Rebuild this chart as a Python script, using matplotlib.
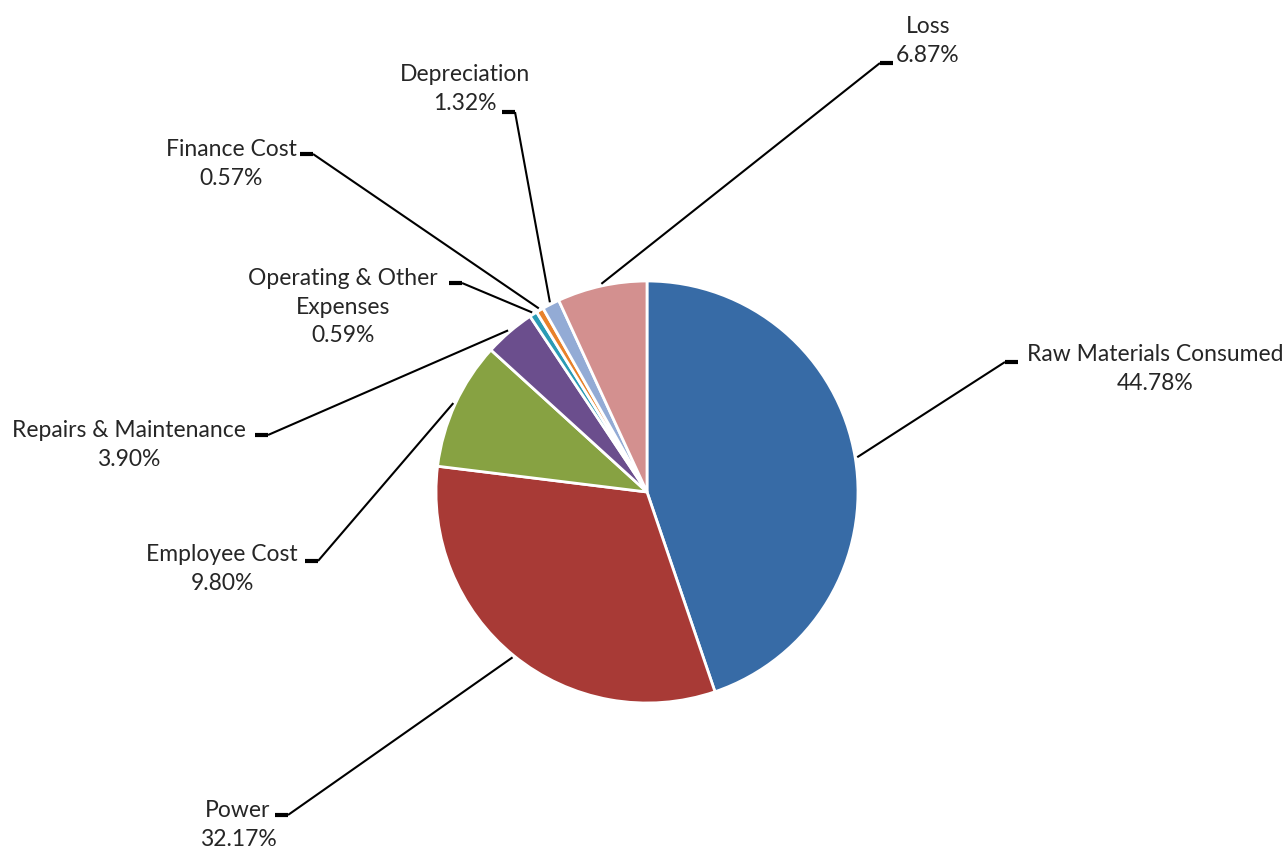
import numpy as np
import matplotlib.pyplot as plt

plt.rcParams['font.family'] = ['Lato', 'DejaVu Sans']

# Data
categories = ['Raw Materials Consumed', 'Power', 'Employee Cost', 'Repairs & Maintenance',
              'Operating & Other\nExpenses', 'Finance Cost', 'Depreciation', 'Loss']
shares = [44.78, 32.17, 9.80, 3.90, 0.59, 0.57, 1.32, 6.87]
colors = ['#376BA6', '#A83A36', '#87A242', '#6B4E8D', '#2A9BB5', '#E8812A', '#93ABD5', '#D3908F']

# Layout (pixel positions of label centres and leader elbows)
W, H = 1285, 848
CX, CY, R = 647, 492, 211
label_pos = [(1155, 369), (238, 825), (222, 569), (129, 445),
             (343, 307), (231, 164), (465, 89), (928, 41)]
elbow = [(1005, 362), (288, 815), (318, 561), (268, 435),
         (462, 283), (313, 154), (515, 112), (880, 63)]
side = [1, -1, -1, -1, -1, -1, -1, 1]  # text to the right (1) or left (-1) of elbow


def px(x, y):
    return (x - CX) / R, (CY - y) / R


fig = plt.figure(figsize=(W / 100, H / 100), dpi=100)
ax = fig.add_axes([0, 0, 1, 1])

wedges, _ = ax.pie(shares, colors=colors, startangle=90, counterclock=False, radius=1,
                   wedgeprops=dict(edgecolor='white', linewidth=2))
ax.set_xlim(-CX / R, (W - CX) / R)
ax.set_ylim(-(H - CY) / R, CY / R)
ax.set_aspect('equal')
ax.axis('off')

for i, w in enumerate(wedges):
    ang = np.deg2rad((w.theta1 + w.theta2) / 2)
    x0, y0 = 1.01 * np.cos(ang), 1.01 * np.sin(ang)
    ex, ey = px(*elbow[i])
    hx = ex + side[i] * 13 / R
    ax.plot([x0, ex], [y0, ey], color='black', lw=1.5, solid_capstyle='butt')
    ax.plot([ex, hx], [ey, ey], color='black', lw=3, solid_capstyle='butt')
    lx, ly = px(*label_pos[i])
    ax.text(lx, ly, f'{categories[i]}\n{shares[i]:.2f}%', ha='center', va='center',
            fontsize=16.5, color='#262626', linespacing=1.47)

fig.savefig('out.png', dpi=100)
